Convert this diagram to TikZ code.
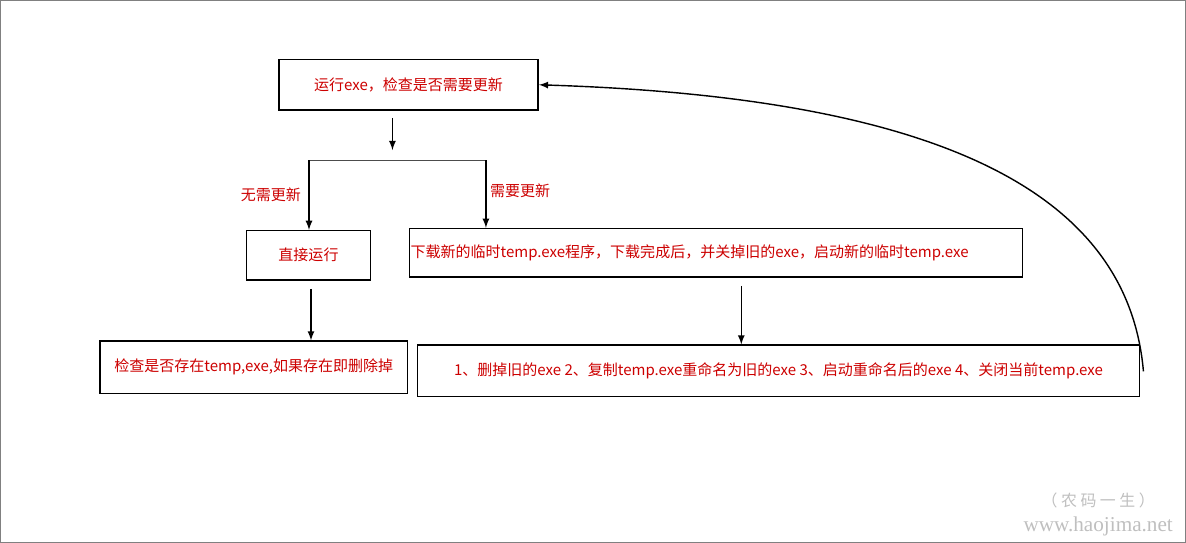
\documentclass[tikz,border=0pt]{standalone}
\usepackage{fontspec}
\setmainfont{Liberation Sans}
\newfontfamily\cjk{Noto Sans CJK SC}
\newfontfamily\wmfont{Liberation Serif}
\colorlet{txtRed}{red!80!black}
\begin{document}
\begin{tikzpicture}[
    x=0.02cm, y=-0.02cm,
    font=\cjk\fontsize{8.5}{10}\selectfont,
    arr/.style={thick, -latex},
    box/.style={
        rectangle,
        draw=black,
        thick,
        inner sep=0,
        text=txtRed,
      },
    lbl/.style={text=txtRed},
  ]
  \draw[gray] (3,3) rectangle (1182,542);
  \node[box, minimum width=5.16cm, minimum height=1cm] (run) at (409,87) {运行exe，检查是否需要更新};
  \node[box, minimum width=2.46cm, minimum height=0.98cm] (direct) at (309.5,256.5) {直接运行};
  \node[box, minimum width=12.2cm, minimum height=0.96cm, text width=12.16cm, align=left] (down) at (715,254) {下载新的临时temp.exe程序，下载完成后，并关掉旧的exe，启动新的临时temp.exe};
  \node[box, minimum width=6.12cm, minimum height=1.04cm] (check) at (255,368) {检查是否存在temp,exe,如果存在即删除掉};
  \node[box, minimum width=14.36cm, minimum height=1.02cm] (swap) at (777,371.5) {1、删掉旧的exe 2、复制temp.exe重命名为旧的exe 3、启动重命名后的exe 4、关闭当前temp.exe};

  \coordinate (split) at (393,120);
  \coordinate (splitEnd) at (393,152);
  \coordinate (L) at (310,162);
  \coordinate (R) at (486,162);
  \draw[arr] (split) -- (splitEnd);
  \draw[gray!60!black] (L) -- (R);
  \draw[arr] (L) -- (L |- direct.north);
  \draw[arr] (R) -- (R |- down.north);
  \node[lbl] (noneed) at (272,196) {无需更新};
  \node[lbl] (need) at (520,192) {需要更新};

  \coordinate (d1) at (312,290);
  \coordinate (s1) at (740,287);
  \draw[arr] (d1) -- (d1 |- check.north);
  \draw[arr] (s1) -- (s1 |- swap.north);

  \coordinate (back) at (1140,372);
  \draw[arr] (back) .. controls (1125,200) and (950,100) .. (run.east);

  \node[gray!50, font=\cjk\fontsize{9}{10}\selectfont] (wm1) at (1095,500) {（ 农 码 一 生 ）};
  \node[gray!50, font=\wmfont\fontsize{12}{14}\selectfont] (wm2) at (1095,526) {www.haojima.net};
\end{tikzpicture}
\end{document}
